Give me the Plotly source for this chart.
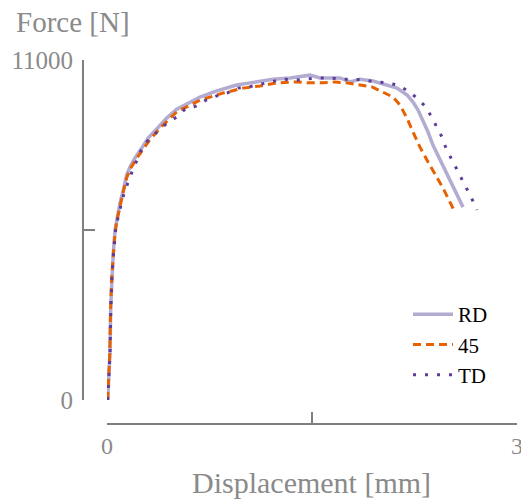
import plotly.graph_objects as go

# ---- data ----
rd_x = [0.005, 0.022, 0.027, 0.034, 0.046, 0.059, 0.075, 0.095, 0.119, 0.144, 0.168, 0.205,
        0.254, 0.302, 0.364, 0.437, 0.510, 0.571, 0.680, 0.803, 0.876, 0.949, 1.046, 1.141,
        1.215, 1.339, 1.485, 1.559, 1.705, 1.778, 1.851, 1.946, 2.049, 2.122, 2.195, 2.239,
        2.276, 2.327, 2.349, 2.385, 2.458, 2.532, 2.605]
rd_y = [0, 1520, 3010, 3980, 4760, 5500, 5920, 6370, 6790, 7280, 7540, 7830,
        8150, 8480, 8770, 9120, 9410, 9540, 9800, 10000, 10090, 10190, 10260, 10320,
        10380, 10420, 10510, 10420, 10420, 10290, 10380, 10320, 10190, 10090, 9870, 9640,
        9380, 8900, 8670, 8250, 7600, 6890, 6240]

d45_x = [0.005, 0.020, 0.027, 0.035, 0.047, 0.060, 0.077, 0.097, 0.120, 0.145, 0.170, 0.210,
         0.260, 0.310, 0.400, 0.510, 0.680, 0.849, 0.995, 1.120, 1.244, 1.390, 1.485, 1.580,
         1.668, 1.756, 1.851, 1.939, 2.019, 2.093, 2.144, 2.195, 2.239, 2.290, 2.349, 2.415,
         2.458, 2.546]
d45_y = [0, 1500, 3000, 4000, 4750, 5450, 5900, 6330, 6750, 7200, 7470, 7770,
         8100, 8400, 8850, 9320, 9700, 9930, 10090, 10160, 10260, 10290, 10260, 10260,
         10290, 10260, 10190, 10130, 9960, 9800, 9540, 9120, 8670, 8180, 7700, 7210,
         6860, 6080]

td_x = [0.005, 0.022, 0.028, 0.036, 0.048, 0.062, 0.080, 0.100, 0.125, 0.161, 0.190, 0.227,
        0.256, 0.307, 0.373, 0.439, 0.512, 0.571, 0.651, 0.724, 0.798, 0.878, 0.959, 1.039,
        1.127, 1.207, 1.288, 1.376, 1.463, 1.544, 1.632, 1.719, 1.800, 1.888, 1.968, 2.049,
        2.129, 2.202, 2.268, 2.327, 2.371, 2.415, 2.451, 2.480, 2.517, 2.554, 2.597, 2.634,
        2.671, 2.707]
td_y = [0, 1500, 3000, 4000, 4750, 5450, 5900, 6300, 6700, 7120, 7470, 7830,
        8150, 8440, 8700, 8960, 9160, 9410, 9510, 9700, 9830, 9930, 10090, 10130,
        10220, 10290, 10380, 10350, 10380, 10420, 10420, 10380, 10380, 10350, 10290, 10260,
        10190, 10000, 9770, 9510, 9190, 8830, 8510, 8150, 7830, 7510, 7180, 6860,
        6500, 6150]

x_tickvals = [0, 1.5, 3]
x_ticktext = ["0", "", "3"]
y_tickvals = [0, 5500, 11000]
y_ticktext = ["0", "", "11000"]

FONT = "Liberation Serif, DejaVu Serif, serif"
GRAY = "#8a8a8a"
AXIS = "#7f7f7f"

fig = go.Figure()
fig.add_trace(go.Scatter(x=rd_x, y=rd_y, mode="lines", name="RD",
                         line=dict(color="#b2abd2", width=3.5)))
fig.add_trace(go.Scatter(x=d45_x, y=d45_y, mode="lines", name="45",
                         line=dict(color="#e66101", width=3, dash="8px,5px")))
fig.add_trace(go.Scatter(x=td_x, y=td_y, mode="lines", name="TD",
                         line=dict(color="#5e3c99", width=3, dash="3px,9px")))

W, H = 521, 500
ml, mr, mt, mb = 60, 0, 50, 70
pw, ph = W - ml - mr, H - mt - mb

def px_x(p):
    return (p - ml) / pw

def px_y(p):
    return (H - mb - p) / ph

fig.update_layout(
    width=W, height=H,
    margin=dict(l=ml, r=mr, t=mt, b=mb, autoexpand=False),
    paper_bgcolor="white", plot_bgcolor="white",
    font=dict(family=FONT, color=GRAY, size=24),
    xaxis=dict(domain=[px_x(107), px_x(517)], range=[0, 3], anchor="free",
               position=px_y(424), showgrid=False, zeroline=False,
               showline=True, linecolor=AXIS, linewidth=2,
               ticks="inside", ticklen=11, tickwidth=2, tickcolor=AXIS,
               tickvals=x_tickvals, ticktext=x_ticktext, ticklabeloverflow="allow",
               tickfont=dict(family=FONT, color=GRAY, size=24)),
    yaxis=dict(domain=[px_y(400), px_y(60)], range=[0, 11000], anchor="free",
               position=px_x(83), showgrid=False, zeroline=False,
               showline=True, linecolor=AXIS, linewidth=2,
               ticks="inside", ticklen=11, tickwidth=2, tickcolor=AXIS,
               tickvals=y_tickvals, ticktext=y_ticktext, ticklabeloverflow="allow",
               ticklabelstandoff=4,
               tickfont=dict(family=FONT, color=GRAY, size=25)),
    legend=dict(x=px_x(408), y=px_y(294), xanchor="left", yanchor="top",
                font=dict(family=FONT, color="black", size=21),
                bgcolor="rgba(0,0,0,0)", itemwidth=40, tracegroupgap=0),
    showlegend=True,
    annotations=[
        dict(text="Force [N]", x=px_x(14), y=px_y(22), xref="paper", yref="paper",
             xanchor="left", yanchor="middle", showarrow=False,
             font=dict(family=FONT, color=GRAY, size=29)),
        dict(text="Displacement [mm]", x=px_x(311), y=px_y(482), xref="paper", yref="paper",
             xanchor="center", yanchor="middle", showarrow=False,
             font=dict(family=FONT, color=GRAY, size=30)),
    ],
)

fig.write_html("out.html")
